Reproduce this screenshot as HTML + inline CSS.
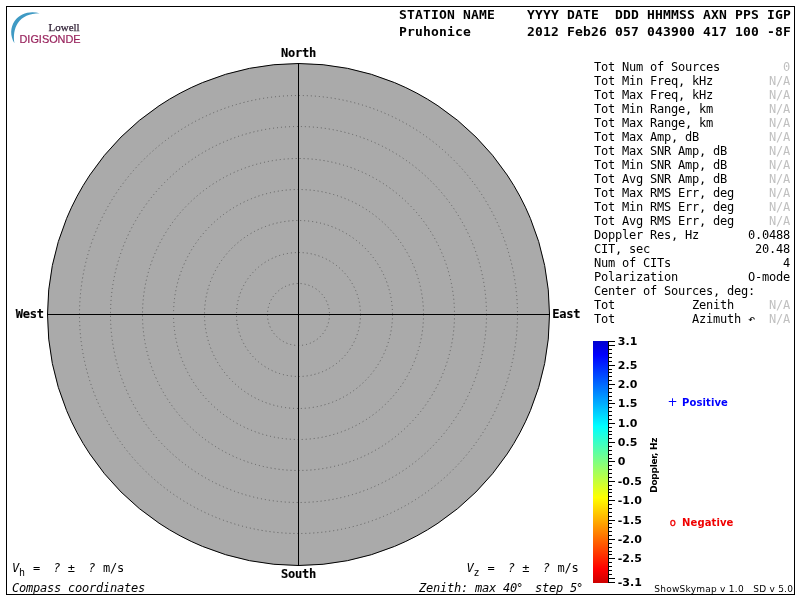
<!DOCTYPE html>
<html lang="en"><head><meta charset="utf-8"><title>Skymap - Pruhonice</title>
<style>
html,body{margin:0;padding:0;background:#fff;}
body{width:800px;height:600px;overflow:hidden;position:relative;}
svg{position:absolute;left:0;top:0;display:block;}
text{white-space:pre;}
.m{font-family:"DejaVu Sans Mono","Liberation Mono",monospace;font-size:12px;letter-spacing:-0.2246px;fill:#000;}
.mb{font-family:"DejaVu Sans Mono","Liberation Mono",monospace;font-size:12px;font-weight:bold;letter-spacing:-0.2246px;fill:#000;stroke:#000;stroke-width:0.15px;}
.mi{font-family:"DejaVu Sans Mono","Liberation Mono",monospace;font-size:12px;font-style:oblique;letter-spacing:-0.2246px;fill:#000;}
.h{font-family:"DejaVu Sans Mono","Liberation Mono",monospace;font-size:13px;font-weight:bold;letter-spacing:0.1733px;fill:#000;}
.g{fill:#c0c0c0;}
.i{font-style:oblique;}
.sl{font-family:"DejaVu Sans","Liberation Sans",sans-serif;font-size:11px;font-weight:bold;fill:#000;}
.lg{font-family:"DejaVu Sans","Liberation Sans",sans-serif;font-size:10px;font-weight:bold;letter-spacing:0.1px;}
.ft{font-family:"DejaVu Sans","Liberation Sans",sans-serif;font-size:9px;letter-spacing:0.25px;fill:#000;}
.dz{font-family:"DejaVu Sans","Liberation Sans",sans-serif;font-size:9px;font-weight:bold;letter-spacing:-0.3px;fill:#000;}
.lw{font-family:"Liberation Serif","DejaVu Serif",serif;font-size:11px;letter-spacing:0px;fill:#35253a;stroke:#35253a;stroke-width:0.25px;}
.dg{font-family:"Liberation Sans","DejaVu Sans",sans-serif;font-size:10.9px;fill:#98225c;stroke:#98225c;stroke-width:0.2px;}
</style></head><body>
<svg width="800" height="600" viewBox="0 0 800 600">
<defs><linearGradient id="jet" x1="0" y1="0" x2="0" y2="1">
<stop offset="0.0000" stop-color="rgb(0,0,205)"/>
<stop offset="0.0581" stop-color="rgb(0,0,255)"/>
<stop offset="0.3527" stop-color="rgb(0,255,255)"/>
<stop offset="0.5000" stop-color="rgb(128,255,128)"/>
<stop offset="0.6473" stop-color="rgb(255,255,0)"/>
<stop offset="0.9419" stop-color="rgb(255,0,0)"/>
<stop offset="1.0000" stop-color="rgb(205,0,0)"/>
</linearGradient></defs>
<rect x="0" y="0" width="800" height="600" fill="#fff"/>
<rect x="6.5" y="6.5" width="788" height="588" fill="none" stroke="#000" stroke-width="1" shape-rendering="crispEdges"/>
<circle cx="298.50" cy="314.50" r="251.00" fill="#aaaaaa" stroke="#000" stroke-width="1"/>
<circle cx="298.50" cy="314.50" r="31.00" fill="none" stroke="#5e5e5e" stroke-width="1" stroke-dasharray="1 3"/>
<circle cx="298.50" cy="314.50" r="62.00" fill="none" stroke="#5e5e5e" stroke-width="1" stroke-dasharray="1 3"/>
<circle cx="298.50" cy="314.50" r="94.00" fill="none" stroke="#5e5e5e" stroke-width="1" stroke-dasharray="1 3"/>
<circle cx="298.50" cy="314.50" r="125.00" fill="none" stroke="#5e5e5e" stroke-width="1" stroke-dasharray="1 3"/>
<circle cx="298.50" cy="314.50" r="156.00" fill="none" stroke="#5e5e5e" stroke-width="1" stroke-dasharray="1 3"/>
<circle cx="298.50" cy="314.50" r="188.00" fill="none" stroke="#5e5e5e" stroke-width="1" stroke-dasharray="1 3"/>
<circle cx="298.50" cy="314.50" r="219.00" fill="none" stroke="#5e5e5e" stroke-width="1" stroke-dasharray="1 3"/>
<rect x="298" y="63" width="1" height="503" fill="#000"/>
<rect x="47" y="314" width="503" height="1" fill="#000"/>
<text class="mb" x="281" y="57">North</text>
<text class="mb" x="281" y="578">South</text>
<text class="mb" x="15.8" y="318">West</text>
<text class="mb" x="552.3" y="318">East</text>
<text class="h" x="399" y="19">STATION NAME    YYYY DATE  DDD HHMMSS AXN PPS IGP</text>
<text class="h" x="399" y="36">Pruhonice       2012 Feb26 057 043900 417 100 -8F</text>
<text class="m" x="594" y="71">Tot Num of Sources</text>
<text class="m g" x="783" y="71">0</text>
<text class="m" x="594" y="85">Tot Min Freq, kHz</text>
<text class="m g" x="769" y="85">N/A</text>
<text class="m" x="594" y="99">Tot Max Freq, kHz</text>
<text class="m g" x="769" y="99">N/A</text>
<text class="m" x="594" y="113">Tot Min Range, km</text>
<text class="m g" x="769" y="113">N/A</text>
<text class="m" x="594" y="127">Tot Max Range, km</text>
<text class="m g" x="769" y="127">N/A</text>
<text class="m" x="594" y="141">Tot Max Amp, dB</text>
<text class="m g" x="769" y="141">N/A</text>
<text class="m" x="594" y="155">Tot Max SNR Amp, dB</text>
<text class="m g" x="769" y="155">N/A</text>
<text class="m" x="594" y="169">Tot Min SNR Amp, dB</text>
<text class="m g" x="769" y="169">N/A</text>
<text class="m" x="594" y="183">Tot Avg SNR Amp, dB</text>
<text class="m g" x="769" y="183">N/A</text>
<text class="m" x="594" y="197">Tot Max RMS Err, deg</text>
<text class="m g" x="769" y="197">N/A</text>
<text class="m" x="594" y="211">Tot Min RMS Err, deg</text>
<text class="m g" x="769" y="211">N/A</text>
<text class="m" x="594" y="225">Tot Avg RMS Err, deg</text>
<text class="m g" x="769" y="225">N/A</text>
<text class="m" x="594" y="239">Doppler Res, Hz</text>
<text class="m" x="748" y="239">0.0488</text>
<text class="m" x="594" y="253">CIT, sec</text>
<text class="m" x="755" y="253">20.48</text>
<text class="m" x="594" y="267">Num of CITs</text>
<text class="m" x="783" y="267">4</text>
<text class="m" x="594" y="281">Polarization</text>
<text class="m" x="748" y="281">O-mode</text>
<text class="m" x="594" y="295">Center of Sources, deg:</text>
<text class="m" x="594" y="309">Tot           Zenith</text>
<text class="m g" x="769" y="309">N/A</text>
<text class="m" x="594" y="323">Tot           Azimuth ↶</text>
<text class="m g" x="769" y="323">N/A</text>
<text class="m" x="12" y="572"><tspan class="i">V</tspan><tspan dy="3.5" style="font-size:10px">h</tspan><tspan dy="-3.5" dx="1.204"> =  </tspan><tspan class="i" dx="-0.8">?</tspan><tspan dx="0.4"> ±  </tspan><tspan class="i" dx="-0.4">?</tspan><tspan dx="0.8"> m/s</tspan></text>
<text class="m" x="466.5" y="572"><tspan class="i">V</tspan><tspan dy="3.5" style="font-size:10px">z</tspan><tspan dy="-3.5" dx="1.204"> =  </tspan><tspan class="i" dx="-0.8">?</tspan><tspan dx="0.4"> ±  </tspan><tspan class="i" dx="-0.4">?</tspan><tspan dx="0.8"> m/s</tspan></text>
<text class="mi" x="12" y="592">Compass coordinates</text>
<text class="mi" x="419" y="592">Zenith: max 40<tspan dx="-1">°</tspan><tspan dx="-2">  step 5</tspan><tspan dx="-1">°</tspan></text>
<rect x="593" y="341" width="15" height="242" fill="url(#jet)"/>
<rect x="608" y="341" width="1" height="242" fill="#000"/>
<path d="M608 341 h7 v1 h-7 z M608 345 h7 v1 h-7 z M608 349 h4 v1 h-4 z M608 353 h4 v1 h-4 z M608 357 h4 v1 h-4 z M608 361 h4 v1 h-4 z M608 365 h7 v1 h-7 z M608 369 h4 v1 h-4 z M608 372 h4 v1 h-4 z M608 376 h4 v1 h-4 z M608 380 h4 v1 h-4 z M608 384 h7 v1 h-7 z M608 388 h4 v1 h-4 z M608 392 h4 v1 h-4 z M608 396 h4 v1 h-4 z M608 400 h4 v1 h-4 z M608 403 h7 v1 h-7 z M608 407 h4 v1 h-4 z M608 411 h4 v1 h-4 z M608 415 h4 v1 h-4 z M608 419 h4 v1 h-4 z M608 423 h7 v1 h-7 z M608 427 h4 v1 h-4 z M608 431 h4 v1 h-4 z M608 434 h4 v1 h-4 z M608 438 h4 v1 h-4 z M608 442 h7 v1 h-7 z M608 446 h4 v1 h-4 z M608 450 h4 v1 h-4 z M608 454 h4 v1 h-4 z M608 458 h4 v1 h-4 z M608 461 h7 v1 h-7 z M608 465 h4 v1 h-4 z M608 469 h4 v1 h-4 z M608 473 h4 v1 h-4 z M608 477 h4 v1 h-4 z M608 481 h7 v1 h-7 z M608 485 h4 v1 h-4 z M608 489 h4 v1 h-4 z M608 492 h4 v1 h-4 z M608 496 h4 v1 h-4 z M608 500 h7 v1 h-7 z M608 504 h4 v1 h-4 z M608 508 h4 v1 h-4 z M608 512 h4 v1 h-4 z M608 516 h4 v1 h-4 z M608 520 h7 v1 h-7 z M608 523 h4 v1 h-4 z M608 527 h4 v1 h-4 z M608 531 h4 v1 h-4 z M608 535 h4 v1 h-4 z M608 539 h7 v1 h-7 z M608 543 h4 v1 h-4 z M608 547 h4 v1 h-4 z M608 551 h4 v1 h-4 z M608 554 h4 v1 h-4 z M608 558 h7 v1 h-7 z M608 562 h4 v1 h-4 z M608 566 h4 v1 h-4 z M608 570 h4 v1 h-4 z M608 574 h4 v1 h-4 z M608 578 h7 v1 h-7 z M608 582 h7 v1 h-7 z" fill="#000" shape-rendering="crispEdges"/>
<text class="sl" x="617.8" y="345">3.1</text>
<text class="sl" x="617.8" y="369">2.5</text>
<text class="sl" x="617.8" y="388">2.0</text>
<text class="sl" x="617.8" y="407">1.5</text>
<text class="sl" x="617.8" y="427">1.0</text>
<text class="sl" x="617.8" y="446">0.5</text>
<text class="sl" x="617.8" y="465">0</text>
<text class="sl" x="617.8" y="485">-0.5</text>
<text class="sl" x="617.8" y="504">-1.0</text>
<text class="sl" x="617.8" y="524">-1.5</text>
<text class="sl" x="617.8" y="543">-2.0</text>
<text class="sl" x="617.8" y="562">-2.5</text>
<text class="sl" x="617.8" y="586">-3.1</text>
<text class="lg" x="667.6" y="406" fill="#0000ff" style="font-weight:normal;font-size:12px">+</text>
<text class="lg" x="682.1" y="406" fill="#0000ff">Positive</text>
<text class="lg" x="669.8" y="526" fill="#f00000" stroke="#f00000" stroke-width="0.3" style="font-weight:normal">o</text>
<text class="lg" x="682.1" y="526" fill="#f00000">Negative</text>
<text class="dz" transform="translate(657,492.7) rotate(-90)">Doppler, Hz</text>
<text class="ft" x="654.3" y="592">ShowSkymap v 1.0   SD v 5.0</text>
<path d="M39.6 13.2 C30.5 10.5 20 13 14.6 21 C10.2 27.5 10 36 14.4 43.2 C13.3 36 14.1 28.9 17.9 23.1 C22.2 16.4 29.5 13.4 39.6 13.2 Z" fill="#3f9ac4"/>
<text class="lw" x="48.5" y="30.5">Lowell</text>
<text class="dg" x="19.5" y="42.7">DIGISONDE</text>
</svg>
</body></html>
